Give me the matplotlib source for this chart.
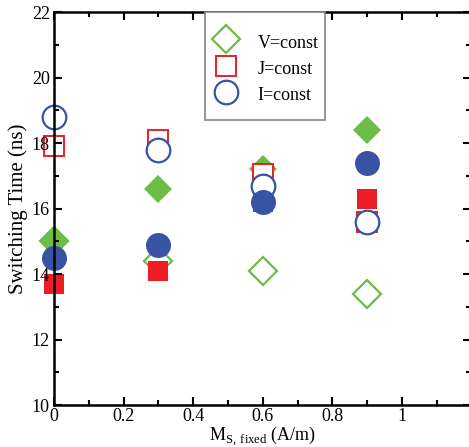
import matplotlib
matplotlib.use("Agg")
import matplotlib.pyplot as plt
from matplotlib.ticker import MultipleLocator
from matplotlib.patches import Rectangle

plt.rcParams['font.family'] = ['Liberation Serif', 'DejaVu Serif']
plt.rcParams['mathtext.fontset'] = 'custom'
plt.rcParams['mathtext.rm'] = 'Liberation Serif'

x = [0.0, 0.3, 0.6, 0.9]
v_open = [15.0, 14.4, 14.1, 13.4]
v_fill = [15.05, 16.6, 17.2, 18.4]
j_open = [17.9, 18.1, 17.05, 15.6]
j_fill = [13.7, 14.1, 16.2, 16.3]
i_open = [18.8, 17.8, 16.7, 15.6]
i_fill = [14.5, 14.9, 16.2, 17.4]

green = '#6cbd45'
red = '#ee1c25'
blue = '#3753a4'

fig = plt.figure(figsize=(4.69, 4.47), dpi=100)
ax = fig.add_axes([54/469, 42/447, (471-54)/469, (405-12)/447])
ax.set_axisbelow(False)

h1, = ax.plot(x, v_open, ls='none', marker='D', ms=14, mfc='white', mec=green, mew=1.6, label='V=const', zorder=2.0)
ax.plot(x, v_fill, ls='none', marker='D', ms=14, mfc=green, mec=green, mew=0, zorder=2.05)
h2, = ax.plot(x, j_open, ls='none', marker='s', ms=15, mfc='white', mec=red, mew=1.4, label='J=const', zorder=2.1)
ax.plot(x, j_fill, ls='none', marker='s', ms=15, mfc=red, mec=red, mew=0, zorder=2.15)
h3, = ax.plot(x, i_open, ls='none', marker='o', ms=17, mfc='white', mec=blue, mew=1.6, label='I=const', zorder=2.2)
ax.plot(x, i_fill, ls='none', marker='o', ms=18, mfc=blue, mec=blue, mew=0, zorder=2.25)
for m in ax.lines:
    m.set_clip_on(False)

ax.set_xlim(0, 1.1983)
ax.set_ylim(10, 22)
ax.set_xticks([0, 0.2, 0.4, 0.6, 0.8, 1.0])
ax.set_xticklabels(['0', '0.2', '0.4', '0.6', '0.8', '1'])
ax.xaxis.set_minor_locator(MultipleLocator(0.1))
ax.yaxis.set_major_locator(MultipleLocator(2))
ax.yaxis.set_minor_locator(MultipleLocator(1))
ax.tick_params(which='both', direction='in', top=True, right=True, labelsize=13, width=1.5)
ax.tick_params(axis='x', pad=2.5)
ax.tick_params(axis='y', pad=3)
ax.tick_params(which='major', length=6)
ax.tick_params(which='minor', length=3.5)
for s in ax.spines.values():
    s.set_linewidth(1.8)

ax.set_ylabel('Switching Time (ns)', fontsize=15, labelpad=3)
ax.set_xlabel(r'M$_{\mathrm{S,\,fixed}}$ (A/m)', fontsize=13, labelpad=-0.5)

# legend frame
ax.add_patch(Rectangle(((205-54)/417, (405-120)/393), 120/417, 108/393, transform=ax.transAxes,
                       facecolor='white', edgecolor='#858585', lw=1.2, zorder=2.6, clip_on=False))
leg = ax.legend(handles=[h1, h2, h3], loc='upper left',
                bbox_to_anchor=((217-54)/417, (405-31)/393), fontsize=13, frameon=False,
                borderpad=0, borderaxespad=0, labelspacing=0.27, handleheight=1.45,
                handlelength=1.0, handletextpad=1.25)
leg.set_zorder(2.7)

fig.savefig('out.png', dpi=100)
